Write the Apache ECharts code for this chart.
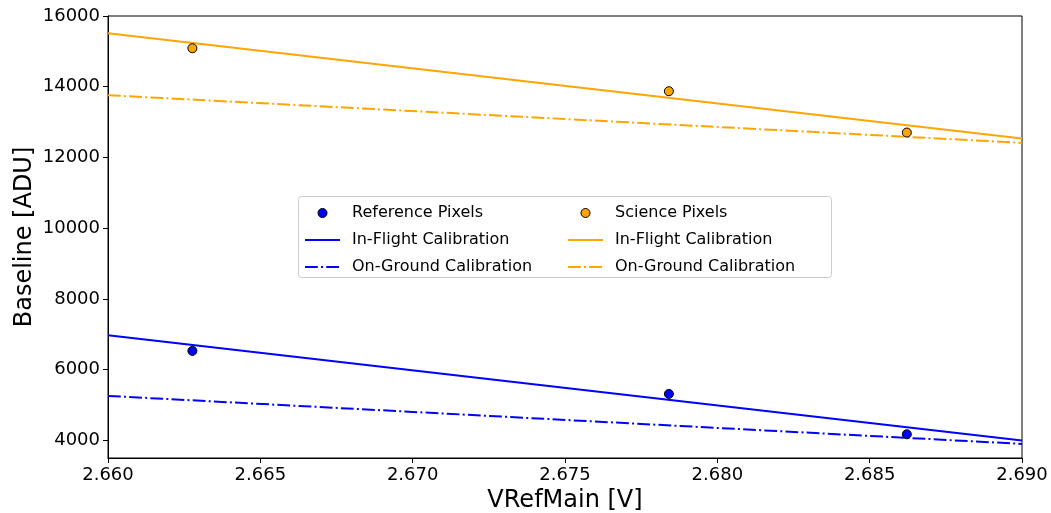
<!DOCTYPE html>
<html>
<head>
<meta charset="utf-8">
<script src="https://cdn.jsdelivr.net/npm/echarts@6/dist/echarts.min.js"></script>
<style>
  html, body { margin: 0; padding: 0; background: #fff; }
  #chart { width: 1051px; height: 513px; }
</style>
</head>
<body>
<div id="chart"></div>
<script>
// measured points (VRefMain, baseline)
var refPixels = [[2.66277, 6529], [2.67841, 5313], [2.68622, 4170]];
var sciPixels = [[2.66277, 15089], [2.67841, 13873], [2.68622, 12704]];
// calibration lines, end points at the axis limits
var refInFlight = [[2.660, 6970], [2.690, 3992]];
var refOnGround = [[2.660, 5256], [2.690, 3898]];
var sciInFlight = [[2.660, 15513], [2.690, 12535]];
var sciOnGround = [[2.660, 13760], [2.690, 12413]];
// tick values
var yTicks = [4000, 6000, 8000, 10000, 12000, 14000, 16000];

var font = 'DejaVu Sans';
var blue = '#0000ff', orange = '#ffa500';
var dashDot = [12.8, 3.2, 2, 3.2];

function lineSeries(name, data, color, dashed) {
    return {
        name: name,
        type: 'line',
        data: data,
        symbol: 'none',
        color: color,
        lineStyle: { color: color, width: 2, type: dashed ? dashDot : 'solid' },
        animation: false,
        z: 2
    };
}

function dotSeries(name, data, color) {
    return {
        name: name,
        type: 'scatter',
        data: data,
        symbol: 'circle',
        symbolSize: 9,
        color: color,
        itemStyle: { color: color, borderColor: '#000', borderWidth: 1, opacity: 1 },
        animation: false,
        z: 3
    };
}

// legend entries: line icons without the symbol in the middle
function lineItem(name, color, dashed) {
    return {
        name: name,
        itemStyle: { opacity: 0 },
        lineStyle: { color: color, width: 2, type: dashed ? dashDot : 'solid' }
    };
}
function dotItem(name) {
    return { name: name, icon: 'circle', itemStyle: { borderColor: '#000', borderWidth: 1, opacity: 1 } };
}

function legendColumn(left, items) {
    return {
        left: left, top: 196,
        orient: 'vertical',
        padding: [9, 0, 8, 0],
        itemWidth: 35, itemHeight: 9, itemGap: 11,
        selectedMode: false,
        textStyle: { fontFamily: font, fontSize: 16, color: '#000', lineHeight: 14, padding: [0, 0, 0, 7] },
        formatter: function(name) { return name.trim(); },
        data: items,
        z: 5
    };
}

var myChart = echarts.init(document.getElementById('chart'));
var option = {
    backgroundColor: '#fff',
    textStyle: { fontFamily: font },
    grid: {
        left: 108, right: 29, top: 16, bottom: 55,
        outerBoundsMode: 'none',
        show: true, borderColor: '#000', borderWidth: 1
    },
    // legend frame
    graphic: [{
        type: 'rect',
        left: 298, top: 196, z: 4,
        shape: { width: 533, height: 81, r: 3 },
        style: { fill: 'rgba(255,255,255,0.8)', stroke: '#cccccc', lineWidth: 1 }
    }],
    legend: [
        legendColumn(304, [
            dotItem('Reference Pixels'),
            lineItem('In-Flight Calibration', blue, false),
            lineItem('On-Ground Calibration', blue, true)
        ]),
        legendColumn(567, [
            dotItem('Science Pixels'),
            lineItem('In-Flight Calibration ', orange, false),
            lineItem('On-Ground Calibration ', orange, true)
        ])
    ],
    xAxis: {
        type: 'value',
        min: 2.660, max: 2.690, interval: 0.005,
        name: 'VRefMain [V]',
        nameLocation: 'middle',
        nameGap: 31,
        nameMoveOverlap: false,
        nameTextStyle: { fontFamily: font, fontSize: 24, color: '#000' },
        axisLine: { lineStyle: { color: '#000', width: 1 } },
        axisTick: { show: true, inside: false, length: 5, lineStyle: { color: '#000' } },
        axisLabel: {
            fontFamily: font, fontSize: 18, color: '#000', margin: 8,
            formatter: function(v) { return v.toFixed(3); }
        },
        splitLine: { show: false }
    },
    yAxis: {
        type: 'value',
        min: 3500, max: 16000,
        name: 'Baseline [ADU]',
        nameLocation: 'middle',
        nameGap: 71,
        nameMoveOverlap: false,
        nameTextStyle: { fontFamily: font, fontSize: 24, color: '#000' },
        axisLine: { show: true, lineStyle: { color: '#000', width: 1 } },
        axisTick: { show: true, inside: false, length: 5, customValues: yTicks, lineStyle: { color: '#000' } },
        axisLabel: {
            fontFamily: font, fontSize: 18, color: '#000', margin: 8, customValues: yTicks,
            formatter: function(v) { return String(v); }
        },
        splitLine: { show: false }
    },
    series: [
        dotSeries('Reference Pixels', refPixels, blue),
        lineSeries('In-Flight Calibration', refInFlight, blue, false),
        lineSeries('On-Ground Calibration', refOnGround, blue, true),
        dotSeries('Science Pixels', sciPixels, orange),
        lineSeries('In-Flight Calibration ', sciInFlight, orange, false),
        lineSeries('On-Ground Calibration ', sciOnGround, orange, true)
    ]
};
myChart.setOption(option);
</script>
</body>
</html>
